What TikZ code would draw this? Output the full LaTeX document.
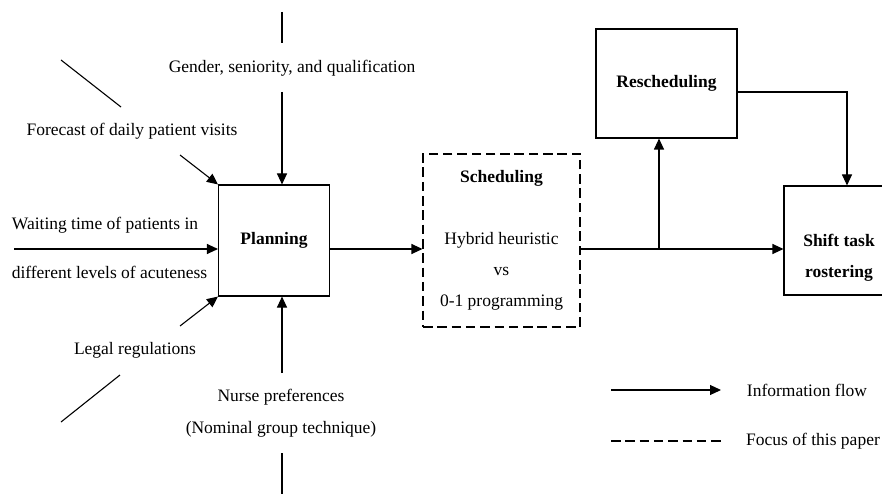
\documentclass[tikz,border=0pt]{standalone}
\usepackage{fontspec}
\setmainfont{Liberation Serif}
\usetikzlibrary{arrows.meta}

\begin{document}
\begin{tikzpicture}[x=1pt,y=-1pt,
    every node/.style={font=\fontsize{17.5}{31}\selectfont},
    stage/.style={draw,line width=1.1pt,minimum width=111pt,minimum height=111pt,align=center},
    flow/.style={line width=1.1pt,-{Triangle[length=11pt,width=10pt]}},
    plain/.style={line width=1.1pt},
    focus/.style={line width=1.1pt,dash pattern=on 9.5pt off 4.8pt}]
   \clip (0,0) rectangle (882,494);
   \coordinate (mid) at (0,249);

   % stages
   \node[stage] (plan) at (274,240.5) {\textbf{Planning}};
   \node[stage,focus,minimum width=157pt,minimum height=173pt] (sched) at (501.5,240.5)
     {\textbf{Scheduling}\\[31pt]Hybrid heuristic\\vs\\0-1 programming};
   \node[stage,minimum width=141pt,minimum height=109pt] (resched) at (666.5,83.5) {\textbf{Rescheduling}};
   \node[stage,minimum width=110pt,minimum height=109pt] (shift) at (839,240.5) {};
   \node[align=center] (shifttxt) at (839,258) {\textbf{Shift task}\\\textbf{rostering}};

   % inputs of planning
   \node (gender) at (292,68) {Gender, seniority, and qualification};
   \node (forecast) at (132,131) {Forecast of daily patient visits};
   \node (waiting) at (105,225) {Waiting time of patients in};
   \node (acute) at (109.5,272) {different levels of acuteness};
   \node (legal) at (135,350) {Legal regulations};
   \node (nurse) at (281,397) {Nurse preferences};
   \node (nominal) at (281,429) {(Nominal group technique)};

   \coordinate (g1) at (282,12);  \coordinate (g2) at (282,43);  \coordinate (g3) at (282,92);
   \coordinate (f1) at (61,60);   \coordinate (f2) at (121,107); \coordinate (f3) at (180,155);
   \coordinate (w1) at (14,249);
   \coordinate (l1) at (61,422);  \coordinate (l2) at (120,375); \coordinate (l3) at (180,326);
   \coordinate (n1) at (282,500); \coordinate (n2) at (282,453); \coordinate (n3) at (282,373);

   \draw[plain] (g1) -- (g2);
   \draw[flow] (g3) -- (g3 |- plan.north);
   \draw[plain] (f1) -- (f2);
   \draw[flow] (f3) -- (plan.north west);
   \draw[flow] (w1) -- (plan.west |- mid);
   \draw[plain] (l1) -- (l2);
   \draw[flow] (l3) -- (plan.south west);
   \draw[plain] (n1) -- (n2);
   \draw[flow] (n3) -- (n3 |- plan.south);

   % flow between stages
   \coordinate (br) at (659,249);
   \coordinate (rt) at (847,92);
   \draw[flow] (plan.east |- mid) -- (sched.west |- mid);
   \draw[flow] (sched.east |- mid) -- (shift.west |- mid);
   \draw[flow] (br) -- (br |- resched.south);
   \draw[flow] (resched.east |- rt) -- (rt) -- (rt |- shift.north);

   % legend
   \coordinate (a1) at (611,390); \coordinate (a2) at (721,390);
   \coordinate (d1) at (611,441); \coordinate (d2) at (723,441);
   \draw[flow] (a1) -- (a2);
   \draw[focus] (d1) -- (d2);
   \node (info) at (807,390) {Information flow};
   \node (paper) at (813,441) {Focus of this paper};
\end{tikzpicture}
\end{document}
